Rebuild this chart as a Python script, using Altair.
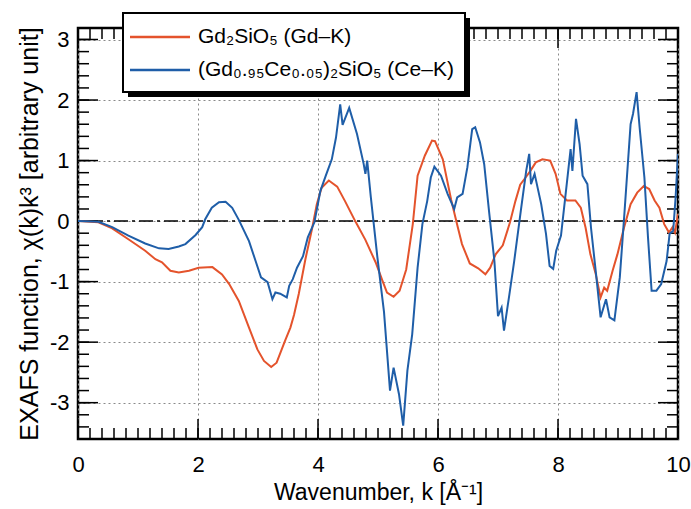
import altair as alt
import pandas as pd

# ---- data ----
k_gd = [0, 0.34, 0.57, 0.84, 1.12, 1.29, 1.40, 1.54, 1.68, 1.85, 2.01, 2.24, 2.40, 2.52, 2.68, 2.85,
        2.99, 3.10, 3.22, 3.31, 3.45, 3.54, 3.60, 3.68, 3.79, 3.90, 3.98, 4.06, 4.18, 4.32, 4.45, 4.62,
        4.79, 4.96, 5.08, 5.15, 5.26, 5.36, 5.47, 5.58, 5.66, 5.78, 5.90, 5.95, 6.08, 6.22, 6.33, 6.40,
        6.53, 6.67, 6.79, 6.87, 6.96, 7.08, 7.20, 7.29, 7.37, 7.46, 7.54, 7.63, 7.74, 7.87, 7.96, 8.04,
        8.15, 8.29, 8.38, 8.46, 8.54, 8.63, 8.71, 8.77, 8.82, 8.91, 8.99, 9.10, 9.21, 9.32, 9.43, 9.52,
        9.61, 9.69, 9.77, 9.85, 9.91, 9.95, 10.0]
chi_gd = [0, -0.02, -0.12, -0.30, -0.49, -0.63, -0.68, -0.82, -0.85, -0.82, -0.77, -0.76, -0.88, -1.04,
          -1.32, -1.76, -2.12, -2.31, -2.41, -2.34, -1.98, -1.76, -1.55, -1.20, -0.63, -0.13, 0.28, 0.55,
          0.67, 0.57, 0.33, 0.0, -0.31, -0.68, -1.00, -1.18, -1.25, -1.15, -0.80, -0.05, 0.75, 1.08, 1.33,
          1.32, 1.02, 0.35, -0.10, -0.38, -0.70, -0.78, -0.88, -0.77, -0.55, -0.40, -0.02, 0.33, 0.60, 0.72,
          0.83, 0.97, 1.02, 1.00, 0.78, 0.45, 0.34, 0.34, 0.22, -0.11, -0.55, -0.88, -1.26, -1.10, -1.15,
          -0.82, -0.55, -0.11, 0.28, 0.47, 0.58, 0.53, 0.34, 0.22, -0.05, -0.19, -0.10, -0.19, 0.12]

k_ce = [0, 0.34, 0.57, 0.84, 1.12, 1.35, 1.51, 1.68, 1.79, 1.96, 2.07, 2.12, 2.23, 2.35, 2.46, 2.57,
        2.68, 2.85, 2.96, 3.05, 3.16, 3.24, 3.29, 3.37, 3.48, 3.52, 3.58, 3.65, 3.75, 3.83, 3.94, 4.04,
        4.13, 4.23, 4.30, 4.37, 4.41, 4.52, 4.65, 4.76, 4.79, 4.82, 4.88, 4.99, 5.10, 5.20, 5.26, 5.35,
        5.42, 5.49, 5.57, 5.66, 5.74, 5.82, 5.88, 5.94, 6.05, 6.16, 6.27, 6.32, 6.41, 6.49, 6.57, 6.62,
        6.70, 6.77, 6.85, 6.94, 7.00, 7.06, 7.10, 7.19, 7.27, 7.38, 7.47, 7.52, 7.55, 7.61, 7.72, 7.80,
        7.86, 7.92, 7.97, 8.05, 8.14, 8.21, 8.24, 8.30, 8.36, 8.41, 8.49, 8.55, 8.64, 8.71, 8.80, 8.86,
        8.94, 9.03, 9.11, 9.21, 9.25, 9.31, 9.36, 9.44, 9.50, 9.56, 9.64, 9.72, 9.81, 9.86, 9.92, 9.96, 10.0]
chi_ce = [0, -0.01, -0.10, -0.24, -0.37, -0.45, -0.46, -0.42, -0.38, -0.23, -0.10, 0.03, 0.22, 0.31, 0.32,
          0.22, 0.02, -0.33, -0.66, -0.93, -1.01, -1.29, -1.18, -1.20, -1.26, -1.07, -0.96, -0.77, -0.58,
          -0.27, -0.02, 0.50, 0.75, 1.02, 1.38, 1.93, 1.59, 1.87, 1.44, 0.95, 0.78, 1.00, 0.40, -0.60, -1.50,
          -2.80, -2.42, -2.86, -3.38, -2.47, -1.87, -0.77, -0.05, 0.33, 0.72, 0.90, 0.75, 0.45, 0.20, 0.39,
          0.45, 0.89, 1.52, 1.55, 1.30, 0.94, 0.17, -0.66, -1.57, -1.43, -1.81, -1.21, -0.66, 0.17, 0.83,
          1.11, 0.61, 0.78, 0.28, -0.21, -0.74, -0.79, -0.49, -0.24, 0.56, 1.19, 0.83, 1.69, 1.27, 0.75,
          0.61, -0.11, -0.93, -1.59, -1.29, -1.59, -1.64, -0.93, 0.17, 1.60, 1.77, 2.13, 1.55, 0.72, -0.27,
          -1.15, -1.15, -1.04, -0.66, -0.21, -0.16, 0.39, 1.11]

series_names = ["Gd₂SiO₅ (Gd–K)", "(Gd₀.₉₅Ce₀.₀₅)₂SiO₅ (Ce–K)"]
series_colors = ["#e4532c", "#1f5ea8"]

x_domain = [0, 10]
y_domain = [-3.6, 3.19]
x_major = [0, 2, 4, 6, 8, 10]
y_major = [-3, -2, -1, 0, 1, 2, 3]
x_minor = [round(0.2 * i, 1) for i in range(51)]
y_minor = [round(-3.6 + 0.2 * i, 1) for i in range(34)]

W, H = 600, 411
FONT = "Liberation Sans"
MAJ, MIN = 20, 11

df = pd.concat([
    pd.DataFrame({"k": k_gd, "chi": chi_gd, "s": series_names[0]}),
    pd.DataFrame({"k": k_ce, "chi": chi_ce, "s": series_names[1]}),
])

xs = alt.Scale(domain=x_domain, nice=False, zero=False)
ys = alt.Scale(domain=y_domain, nice=False, zero=False)

x_axis = alt.Axis(values=x_major, grid=True, gridDash=[2, 3], gridColor="#8a8a8a", gridWidth=1,
                  ticks=False, tickSize=0, domain=False, labelFontSize=22, labelPadding=15,
                  labelFlush=False, labelOverlap=False,
                  labelColor="black", labelFont=FONT, title="Wavenumber, k [Å⁻¹]", titleFont=FONT,
                  titleFontSize=23, titleFontWeight="normal", titleColor="black", titlePadding=6,
                  labelExpr="'' + datum.value")
y_axis = alt.Axis(values=y_major, grid=True, gridDash=[2, 3], gridColor="#8a8a8a", gridWidth=1,
                  ticks=False, tickSize=0, domain=False, labelFontSize=22, labelPadding=9,
                  labelFlush=False, labelOverlap=False,
                  labelColor="black", labelFont=FONT,
                  title="EXAFS function, χ(k)k³ [arbitrary unit]", titleFont=FONT,
                  titleFontSize=25, titleFontWeight="normal", titleColor="black", titlePadding=7,
                  labelExpr="'' + datum.value")

X = lambda: alt.X("k:Q", scale=xs, axis=x_axis)
Y = lambda: alt.Y("chi:Q", scale=ys, axis=y_axis)

lines = alt.Chart(df).mark_line(strokeWidth=2, clip=True).encode(
    x=X(), y=Y(),
    color=alt.Color("s:N", scale=alt.Scale(domain=series_names, range=series_colors), legend=None),
)

zero = alt.Chart(pd.DataFrame({"chi": [0]})).mark_rule(color="black", strokeWidth=1.5,
                                                      strokeDash=[14, 4, 3, 4]).encode(y=Y())

xmin_df = pd.DataFrame({"k": x_minor})
xmaj_df = pd.DataFrame({"k": x_major})
ymin_df = pd.DataFrame({"chi": y_minor})
ymaj_df = pd.DataFrame({"chi": y_major})


def xticks(d, ln):
    b = alt.Chart(d).mark_rule(color="black", strokeWidth=1.5).encode(
        x=X(), y=alt.value(H), y2=alt.value(H - ln))
    t = alt.Chart(d).mark_rule(color="black", strokeWidth=1.5).encode(
        x=X(), y=alt.value(0), y2=alt.value(ln))
    return [b, t]


def yticks(d, ln):
    l = alt.Chart(d).mark_rule(color="black", strokeWidth=1.5).encode(
        y=Y(), x=alt.value(0), x2=alt.value(ln))
    r = alt.Chart(d).mark_rule(color="black", strokeWidth=1.5).encode(
        y=Y(), x=alt.value(W), x2=alt.value(W - ln))
    return [l, r]


# ---- hand-drawn legend box (with drop shadow) ----
LX0, LX1, LY0, LY1 = 45, 387, -15, 64
one = pd.DataFrame({"a": [0]})
shadow = alt.Chart(one).mark_rect(color="black").encode(
    x=alt.value(LX0 + 5), x2=alt.value(LX1 + 5), y=alt.value(LY0 + 5), y2=alt.value(LY1 + 5))
box = alt.Chart(one).mark_rect(fill="white", stroke="black", strokeWidth=2).encode(
    x=alt.value(LX0), x2=alt.value(LX1), y=alt.value(LY0), y2=alt.value(LY1))
leg_layers = []
for i, (name, col) in enumerate(zip(series_names, series_colors)):
    yy = 9 + 33 * i
    ld = pd.DataFrame({"s": [name]})
    leg_layers.append(alt.Chart(ld).mark_rule(color=col, strokeWidth=2.5).encode(
        x=alt.value(52), x2=alt.value(112), y=alt.value(yy)))
    leg_layers.append(alt.Chart(ld).mark_text(align="left", baseline="middle", font=FONT,
                                              fontSize=21, color="black").encode(
        text="s:N", x=alt.value(120), y=alt.value(yy)))

chart = alt.layer(
    zero, *xticks(xmin_df, MIN), *xticks(xmaj_df, MAJ), *yticks(ymin_df, MIN), *yticks(ymaj_df, MAJ),
    lines, shadow, box, *leg_layers,
).properties(
    width=W, height=H,
    autosize=alt.AutoSizeParams(type="none"),
    padding={"left": 78, "top": 28, "right": 13, "bottom": 70},
    background="white",
).configure_view(stroke="black", strokeWidth=2.5)

chart.save("out.html", embed_options={"renderer": "svg", "actions": False})
